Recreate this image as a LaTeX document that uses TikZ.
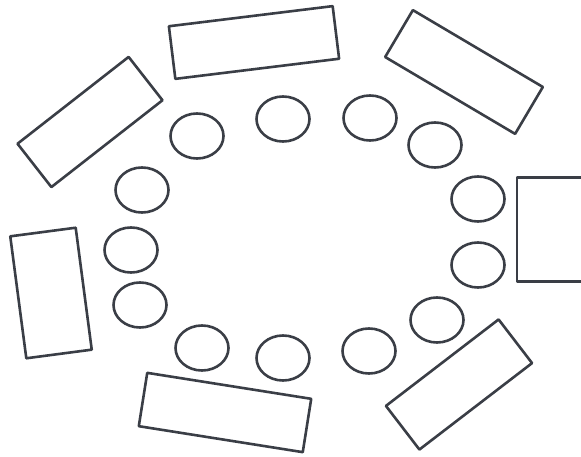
\documentclass[tikz,border=0pt]{standalone}
\usepackage{tikz}
\usetikzlibrary{shapes.geometric}
\definecolor{inkgray}{HTML}{3A3E46}

\begin{document}
\begin{tikzpicture}[
    x=1pt, y=-1pt,
    table/.style={draw=inkgray, rectangle, line width=2.6pt, inner sep=0pt, line join=round},
    seat/.style={draw=inkgray, ellipse, line width=2.6pt, inner sep=0pt, minimum width=53pt, minimum height=45pt}
]
    \clip (0,0) rectangle (581,457);

    \node[table, minimum width=165pt, minimum height=53pt, rotate=7] (ttop) at (254,42.5) {};
    \node[table, minimum width=151pt, minimum height=54.5pt, rotate=-30.6] (ttopright) at (464,72) {};
    \node[table, minimum width=141pt, minimum height=55pt, rotate=38] (ttopleft) at (90,122) {};
    \node[table, minimum width=66pt, minimum height=123pt, rotate=7.5] (tleft) at (51,293) {};
    \node[table, minimum width=166pt, minimum height=54pt, rotate=-9] (tbottom) at (225,412.5) {};
    \node[table, minimum width=142pt, minimum height=55pt, rotate=37.5] (tbottomright) at (459,384.5) {};
    \node[table, minimum width=110pt, minimum height=104pt] (tright) at (572,229.5) {};

    \node[seat] (s1) at (197,136) {};
    \node[seat] (s2) at (283,119) {};
    \node[seat] (s3) at (370,118) {};
    \node[seat] (s4) at (435,145) {};
    \node[seat] (s5) at (478,199) {};
    \node[seat] (s6) at (478,265) {};
    \node[seat] (s7) at (437,320) {};
    \node[seat] (s8) at (369,351) {};
    \node[seat] (s9) at (283,358) {};
    \node[seat] (s10) at (202,348) {};
    \node[seat] (s11) at (140,305) {};
    \node[seat] (s12) at (131,250) {};
    \node[seat] (s13) at (142,190) {};
\end{tikzpicture}
\end{document}
